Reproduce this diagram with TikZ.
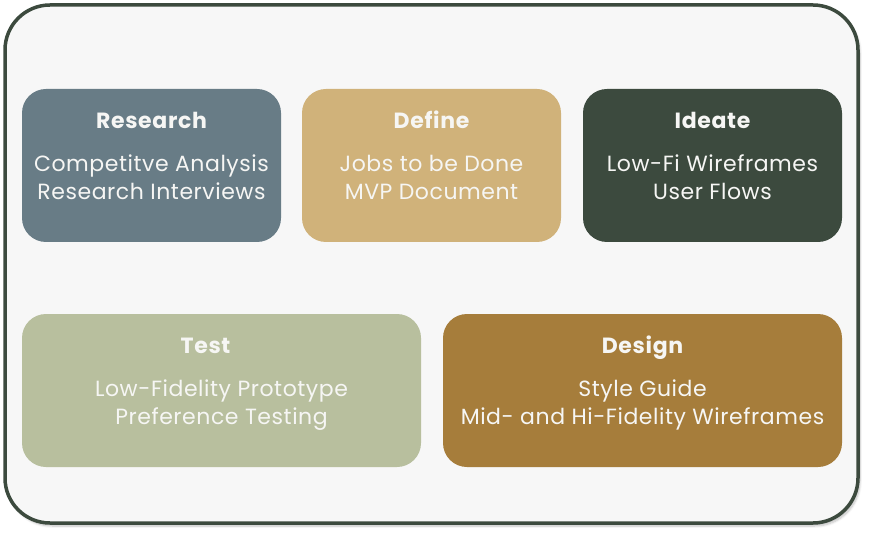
\documentclass[tikz,border=0pt]{standalone}
\usepackage{fontspec}
\setmainfont{Poppins}
\newfontfamily\titlefont{Poppins}[LetterSpace=3]
\newfontfamily\itemfont{Poppins}[LetterSpace=2.5]
\usetikzlibrary{calc,shadows.blur}

\definecolor{framegreen}{HTML}{3C4A3E}
\definecolor{framefill}{HTML}{F7F7F7}
\definecolor{slate}{HTML}{687C86}
\definecolor{sand}{HTML}{D0B27A}
\definecolor{forest}{HTML}{3C4A3E}
\definecolor{sage}{HTML}{B8BF9E}
\definecolor{ochre}{HTML}{A67D3B}
\definecolor{ink}{HTML}{F6F6F4}

\tikzset{
  frame/.style={draw=framegreen, line width=3.5pt, fill=framefill, rounded corners=45pt,
    inner sep=0pt, blur shadow={shadow xshift=2pt, shadow yshift=-3pt, shadow blur steps=6, shadow opacity=25}},
  phase/.style={rounded corners=24pt, inner sep=0pt, minimum height=153pt},
  phasetitle/.style={anchor=base, inner sep=0pt, text=ink, font=\titlefont\fontsize{22}{26}\selectfont\bfseries},
  phaseitem/.style={anchor=base, inner sep=0pt, text=ink, font=\itemfont\fontsize{22}{26}\selectfont},
}

\begin{document}
\begin{tikzpicture}[x=1pt, y=-1pt]
\useasboundingbox (0,0) rectangle (869,534);

% outer panel
\node[frame, minimum width=853pt, minimum height=518pt] (panel) at (431.5,264) {};

% top row
\node[phase, fill=slate, minimum width=259pt] (research) at (151.5,165.5) {};
\node[phase, fill=sand,  minimum width=259pt] (define)   at (431.5,165.5) {};
\node[phase, fill=forest,minimum width=259pt] (ideate)   at (712.5,165.5) {};

% bottom row
\node[phase, fill=sage,  minimum width=399pt] (test)   at (221.5,390.5) {};
\node[phase, fill=ochre, minimum width=399pt] (design) at (642.5,390.5) {};

% labels
\node[phasetitle] (research-t) at ($(research.north)+(0,40)$) {Research};
\node[phaseitem]  (research-a) at ($(research.north)+(0,83)$) {Competitve Analysis};
\node[phaseitem]  (research-b) at ($(research.north)+(0,111)$) {Research Interviews};

\node[phasetitle] (define-t) at ($(define.north)+(0,40)$) {Define};
\node[phaseitem]  (define-a) at ($(define.north)+(0,83)$) {Jobs to be Done};
\node[phaseitem]  (define-b) at ($(define.north)+(0,111)$) {MVP Document};

\node[phasetitle] (ideate-t) at ($(ideate.north)+(0,40)$) {Ideate};
\node[phaseitem]  (ideate-a) at ($(ideate.north)+(0,83)$) {Low-Fi Wireframes};
\node[phaseitem]  (ideate-b) at ($(ideate.north)+(0,111)$) {User Flows};

\node[phasetitle] (test-t) at ($(test.north)+(-16,40)$) {Test};
\node[phaseitem]  (test-a) at ($(test.north)+(0,83)$) {Low-Fidelity Prototype};
\node[phaseitem]  (test-b) at ($(test.north)+(0,111)$) {Preference Testing};

\node[phasetitle] (design-t) at ($(design.north)+(0,40)$) {Design};
\node[phaseitem]  (design-a) at ($(design.north)+(0,83)$) {Style Guide};
\node[phaseitem]  (design-b) at ($(design.north)+(0,111)$) {Mid- and Hi-Fidelity Wireframes};
\end{tikzpicture}
\end{document}
